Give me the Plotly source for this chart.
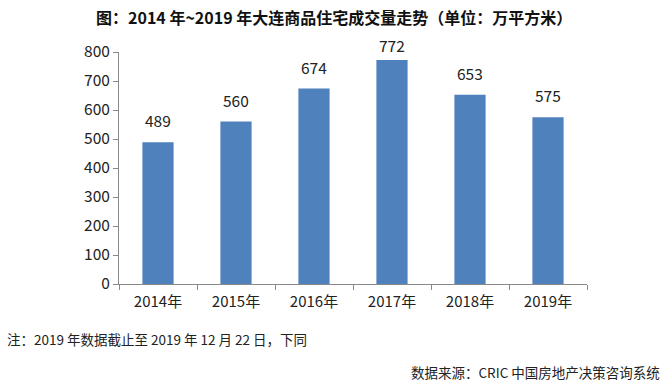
import plotly.graph_objects as go

categories = ["2014年", "2015年", "2016年", "2017年", "2018年", "2019年"]
values = [489, 560, 674, 772, 653, 575]
y_ticks = [0, 100, 200, 300, 400, 500, 600, 700, 800]

title = "图：2014 年~2019 年大连商品住宅成交量走势（单位：万平方米）"
note = "注：2019 年数据截止至 2019 年 12 月 22 日，下同"
source = "数据来源：CRIC 中国房地产决策咨询系统"

font_family = "Noto Sans CJK SC, Noto Sans, sans-serif"

fig = go.Figure(
    go.Bar(
        x=categories,
        y=values,
        marker=dict(color="#4F81BD", line=dict(width=0)),
        showlegend=False,
        hoverinfo="skip",
    )
)

# labels sit above bars; near the top of the plot area the gap is tightened
label_annotations = [
    dict(x=c, y=v, text=str(v), xref="x", yref="y", showarrow=False,
         xanchor="center", yanchor="bottom", yshift=(9 if v < 750 else 2),
         font=dict(size=15.5, color="#222222", family=font_family))
    for c, v in zip(categories, values)
]

fig.update_layout(
    width=669,
    height=391,
    margin=dict(l=119, r=82, t=52, b=107),
    paper_bgcolor="white",
    plot_bgcolor="white",
    bargap=0.6,
    showlegend=False,
    font=dict(family=font_family, color="#222222"),
    annotations=label_annotations + [
        dict(text="<b>" + title + "</b>", xref="paper", yref="paper",
             x=0.5, y=1, xanchor="center", yanchor="middle",
             xshift=-19, yshift=35, showarrow=False,
             font=dict(size=16, color="#111111", family=font_family)),
        dict(text=note, xref="paper", yref="paper", x=0, y=0,
             xanchor="left", yanchor="middle", xshift=-114, yshift=-55,
             showarrow=False, font=dict(size=13.5, color="#222222", family=font_family)),
        dict(text=source, xref="paper", yref="paper", x=1, y=0,
             xanchor="right", yanchor="middle", xshift=75, yshift=-88,
             showarrow=False, font=dict(size=13.5, color="#222222", family=font_family)),
    ],
)

fig.update_xaxes(
    type="category",
    showline=True, linecolor="#888888", linewidth=1,
    ticks="outside", tickson="boundaries", ticklen=5, tickcolor="#888888",
    tickfont=dict(size=15, color="#222222"),
    ticklabelstandoff=4,
    showgrid=False,
)
fig.update_yaxes(
    range=[0, 800],
    tickvals=y_ticks,
    showline=True, linecolor="#888888", linewidth=1,
    ticks="outside", ticklen=5, tickcolor="#888888",
    tickfont=dict(size=15.5, color="#222222"),
    showgrid=False, zeroline=False,
)

fig.write_html(
    "out.html",
    config={"displayModeBar": False},
    post_script="document.body.style.margin='0';document.body.style.padding='0';",
)
